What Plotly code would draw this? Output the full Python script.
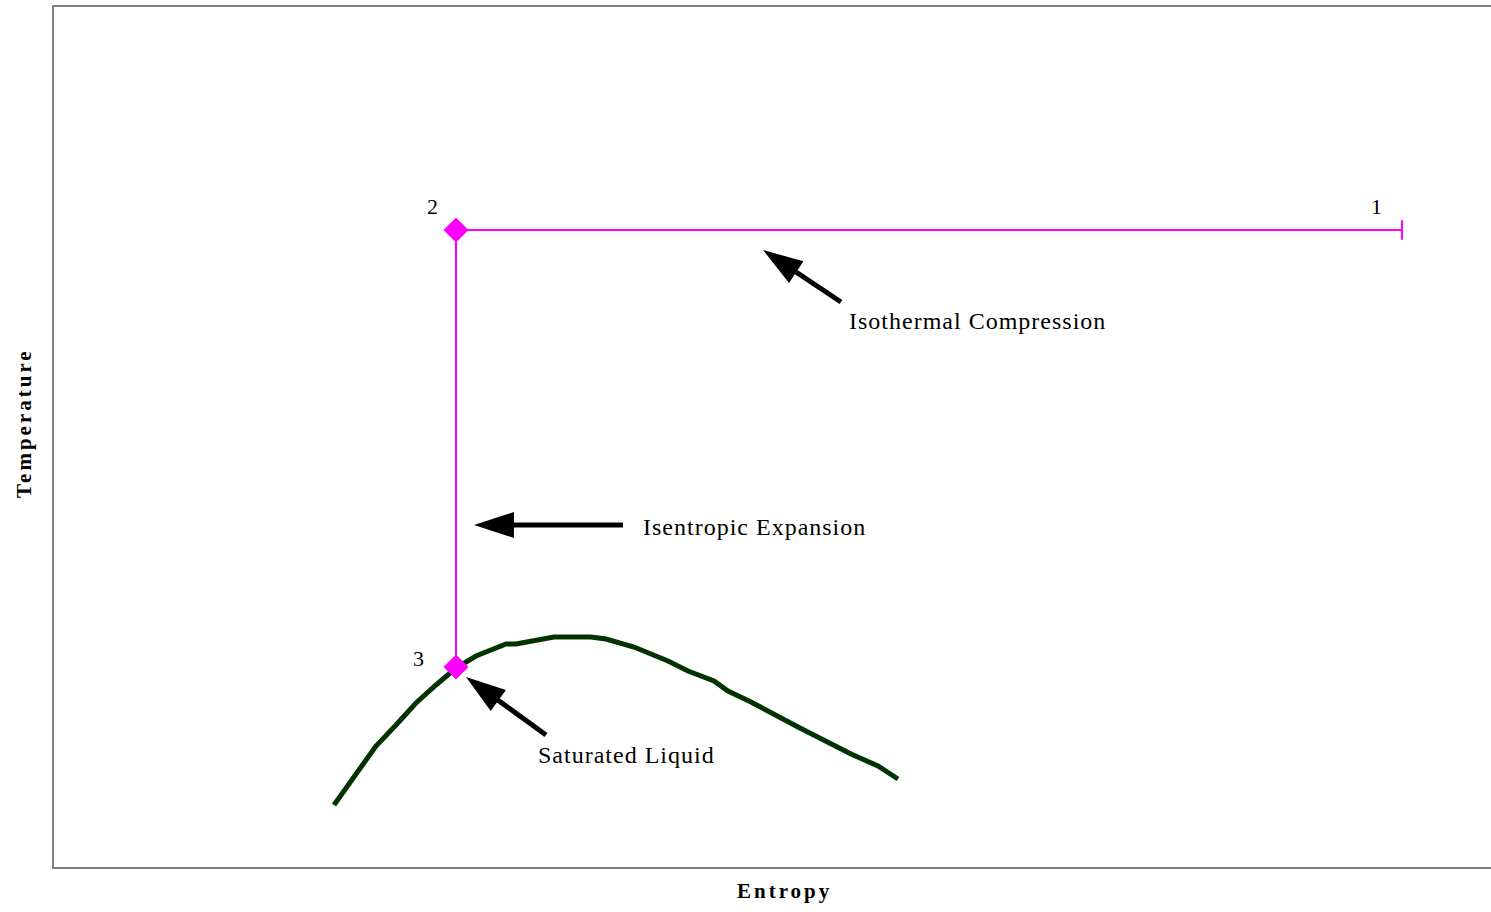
import plotly.graph_objects as go

# saturation dome (entropy, temperature), arbitrary units
dome_s = [2.80, 3.02, 3.12, 3.22, 3.42, 3.62, 3.82, 4.02, 4.22, 4.52, 4.62, 4.82, 5.00,
          5.37, 5.52, 5.80, 6.14, 6.34, 6.60, 6.74, 6.87, 6.97, 7.44, 7.67, 7.87, 7.97,
          8.24, 8.44]
dome_t = [0.62, 0.93, 1.06, 1.21, 1.42, 1.64, 1.82, 1.99, 2.11, 2.23, 2.23, 2.27, 2.30,
          2.30, 2.28, 2.20, 2.06, 1.96, 1.86, 1.76, 1.70, 1.65, 1.40, 1.28, 1.18, 1.13,
          1.01, 0.88]

# cycle states 1 -> 2 -> 3
state_names = ["1", "2", "3"]
state_s = [13.48, 4.02, 4.02]
state_t = [6.37, 6.37, 2.00]
state_label_s = [13.22, 3.78, 3.64]
state_label_t = [6.61, 6.61, 2.09]

# callouts: text, text anchor point, arrow tail, arrow tip
callout_text = ["Isothermal Compression", "Isentropic Expansion", "Saturated Liquid"]
callout_s = [7.93, 5.87, 4.82]
callout_t = [5.46, 3.40, 1.12]
tail_s = [7.87, 5.69, 4.92]
tail_t = [5.65, 3.42, 1.32]
tip_s = [7.09, 4.20, 4.12]
tip_t = [6.17, 3.42, 1.90]

x_title, y_title = "Entropy", "Temperature"

SERIF = "Liberation Serif, Times New Roman, serif"
MAGENTA = "#ff00ff"

fig = go.Figure()

fig.add_trace(go.Scatter(x=dome_s, y=dome_t, mode="lines",
                         line=dict(color="#003300", width=5), hoverinfo="skip"))

fig.add_trace(go.Scatter(x=state_s, y=state_t, mode="lines+markers",
                         line=dict(color=MAGENTA, width=2),
                         marker=dict(symbol=["line-ns-open", "diamond", "diamond"],
                                     size=[14, 17, 17], color=MAGENTA, opacity=1,
                                     line=dict(color=MAGENTA, width=2)),
                         hoverinfo="skip"))

for i in range(len(callout_text)):
    ds, dt = tail_s[i] - tip_s[i], tail_t[i] - tip_t[i]
    d = (ds ** 2 + dt ** 2) ** 0.5
    # stop the shaft inside the head so the point stays sharp
    end_s = tip_s[i] + ds * 0.25 / d
    end_t = tip_t[i] + dt * 0.25 / d
    fig.add_trace(go.Scatter(x=[tail_s[i], end_s], y=[tail_t[i], end_t], mode="lines",
                             line=dict(color="black", width=5), hoverinfo="skip"))
    fig.add_trace(go.Scatter(x=[tail_s[i], tip_s[i]], y=[tail_t[i], tip_t[i]], mode="markers",
                             marker=dict(symbol="arrow", size=[0, 42], color="black", opacity=1,
                                         angleref="previous", line=dict(width=0)),
                             hoverinfo="skip"))
    fig.add_annotation(x=callout_s[i], y=callout_t[i], xanchor="left", yanchor="middle",
                       text='<span style="letter-spacing:1px">%s</span>' % callout_text[i],
                       showarrow=False, font=dict(family=SERIF, size=24, color="black"))

for name, s, t in zip(state_names, state_label_s, state_label_t):
    fig.add_annotation(x=s, y=t, text=name, showarrow=False,
                       font=dict(family=SERIF, size=22, color="black"))

# axis titles
fig.add_annotation(x=7.30, y=0, yref="paper", yanchor="middle", yshift=-24,
                   text='<span style="letter-spacing:3px"><b>%s</b></span>' % x_title,
                   showarrow=False, font=dict(family=SERIF, size=21, color="black"))
fig.add_annotation(x=0, xref="paper", xanchor="center", xshift=-30, y=4.44,
                   textangle=-90,
                   text='<span style="letter-spacing:3px"><b>%s</b></span>' % y_title,
                   showarrow=False, font=dict(family=SERIF, size=21, color="black"))

axis_common = dict(showgrid=False, zeroline=False, showticklabels=False, ticks="",
                   showline=True, linecolor="#808080", linewidth=2, fixedrange=True)

# frame open on the right: top line from the x axis mirror, none on the right
fig.update_xaxes(range=[0, 14.37], mirror=True, **axis_common)
fig.update_yaxes(range=[0, 8.60], mirror=False, **axis_common)

fig.update_layout(width=1491, height=912, showlegend=False,
                  margin=dict(l=54, r=0, t=7, b=45),
                  plot_bgcolor="white", paper_bgcolor="white")

fig.write_html("out.html", config={"displayModeBar": False},
               post_script="document.body.style.margin='0';")
